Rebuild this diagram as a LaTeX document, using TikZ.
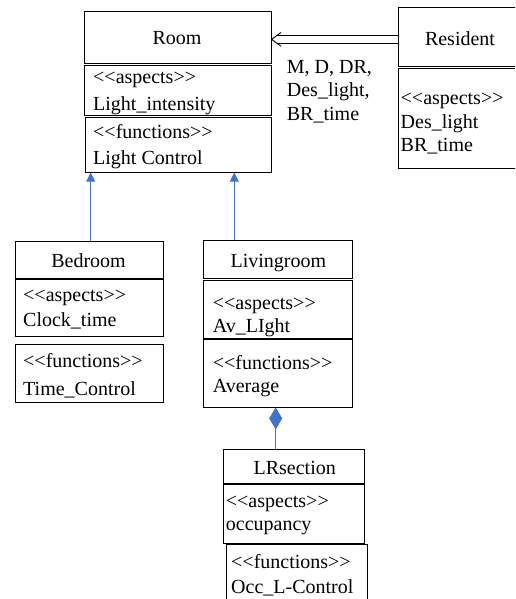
\documentclass[tikz,border=0pt]{standalone}
\usepackage{fontspec}
\setmainfont{Liberation Serif}
\usetikzlibrary{arrows.meta,shapes.geometric}
\definecolor{umlblue}{HTML}{4472C4}
\begin{document}
\begin{tikzpicture}[x=1pt,y=-1pt,
  comp/.style={draw=black, line width=0.9pt, rectangle, inner sep=0pt, anchor=north west},
  txt/.style={font=\fontsize{20}{24}\selectfont, inner sep=0pt, anchor=base west},
  ttl/.style={font=\fontsize{20}{24}\selectfont, inner sep=0pt, anchor=base},
  gen/.style={draw=umlblue, line width=0.8pt, -{Triangle[length=9pt,width=9pt,fill=umlblue]}},
  comps/.style={draw=umlblue, line width=0.8pt, {Diamond[length=22pt,width=13pt,fill=umlblue]}-},
  assoc/.style={draw=black, line width=0.9pt, line join=miter}
]
\useasboundingbox (0,0) rectangle (515,599);
\begin{scope}
\clip (0,0) rectangle (515,599);
% Room
\node[comp, minimum width=186.7pt, minimum height=52pt] (roomT) at (84,10.7) {};
\node[comp, minimum width=186.7pt, minimum height=50.3pt] (roomA) at (84,64.7) {};
\node[comp, minimum width=185.7pt, minimum height=55pt] (roomF) at (85,116.7) {};
\node[ttl] (roomN) at (177,44.8) {Room};
\node[txt] (roomA1) at (93,83.5) {<{}<aspects>{}>};
\node[txt] (roomA2) at (93,110.5) {Light\_intensity};
\node[txt] (roomF1) at (93,138.5) {<{}<functions>{}>};
\node[txt] (roomF2) at (93,164) {Light Control};
% Resident
\node[comp, minimum width=125pt, minimum height=58.4pt] (resT) at (398.3,7.3) {};
\node[comp, minimum width=125pt, minimum height=100pt] (resA) at (398.3,68.3) {};
\node[ttl] (resN) at (460,45.5) {Resident};
\node[txt] (resA1) at (400.5,104.5) {<{}<aspects>{}>};
\node[txt] (resA2) at (400.5,128.5) {Des\_light};
\node[txt] (resA3) at (400.5,151.5) {BR\_time};
% label
\node[txt] (lab1) at (286.7,73.8) {M, D, DR,};
\node[txt] (lab2) at (286.7,97) {Des\_light,};
\node[txt] (lab3) at (286.7,120.5) {BR\_time};
% Bedroom
\node[comp, minimum width=148pt, minimum height=37pt] (bedT) at (15,241) {};
\node[comp, minimum width=148pt, minimum height=57pt] (bedA) at (15,279) {};
\node[comp, minimum width=148pt, minimum height=58pt] (bedF) at (15,344) {};
\node[ttl] (bedN) at (88.5,267.2) {Bedroom};
\node[txt] (bedA1) at (23,301) {<{}<aspects>{}>};
\node[txt] (bedA2) at (23,326) {Clock\_time};
\node[txt] (bedF1) at (23,367) {<{}<functions>{}>};
\node[txt] (bedF2) at (23,395.5) {Time\_Control};
% Livingroom
\node[comp, minimum width=148.7pt, minimum height=38pt] (livT) at (203.3,240) {};
\node[comp, minimum width=148.7pt, minimum height=58.5pt] (livA) at (203.3,279.5) {};
\node[comp, minimum width=148.7pt, minimum height=67.5pt] (livF) at (203.3,339) {};
\node[ttl] (livN) at (278.3,267.2) {Livingroom};
\node[txt] (livA1) at (212.7,309) {<{}<aspects>{}>};
\node[txt] (livA2) at (212.7,332.5) {Av\_LIght};
\node[txt] (livF1) at (212.7,369) {<{}<functions>{}>};
\node[txt] (livF2) at (212.7,392.5) {Average};
% LRsection
\node[comp, minimum width=140.7pt, minimum height=34pt] (lrT) at (223.3,449) {};
\node[comp, minimum width=140.7pt, minimum height=59pt] (lrA) at (223.3,484) {};
\node[comp, minimum width=141.3pt, minimum height=66.5pt] (lrF) at (225.7,543.5) {};
\node[ttl] (lrN) at (294.7,474.5) {LRsection};
\node[txt] (lrA1) at (225.7,507.5) {<{}<aspects>{}>};
\node[txt] (lrA2) at (225.7,530.5) {occupancy};
\node[txt] (lrF1) at (231,568.2) {<{}<functions>{}>};
\node[txt] (lrF2) at (231,593.2) {Occ\_L-Control};
\end{scope}
% connectors
\draw[gen] ([xshift=75.7pt]bedT.north west) -- ([xshift=5.7pt]roomF.south west);
\draw[gen] ([xshift=31pt]livT.north west) -- ([xshift=149.3pt]roomF.south west);
\draw[comps] ([xshift=72.4pt]livF.south west) -- ([xshift=52.4pt]lrT.north west);
% hollow association arrow from Resident to Room
\draw[assoc] ([yshift=1.7pt]roomT.east -| resT.west) -- ([xshift=5.3pt,yshift=1.7pt]roomT.east);
\draw[assoc] ([yshift=-6pt]roomT.east -| resT.west) -- ([xshift=5.3pt,yshift=-6pt]roomT.east);
\draw[assoc] ([xshift=9.5pt,yshift=4.7pt]roomT.east) -- ([yshift=-2.2pt]roomT.east) -- ([xshift=9.5pt,yshift=-9.1pt]roomT.east);
\end{tikzpicture}
\end{document}
